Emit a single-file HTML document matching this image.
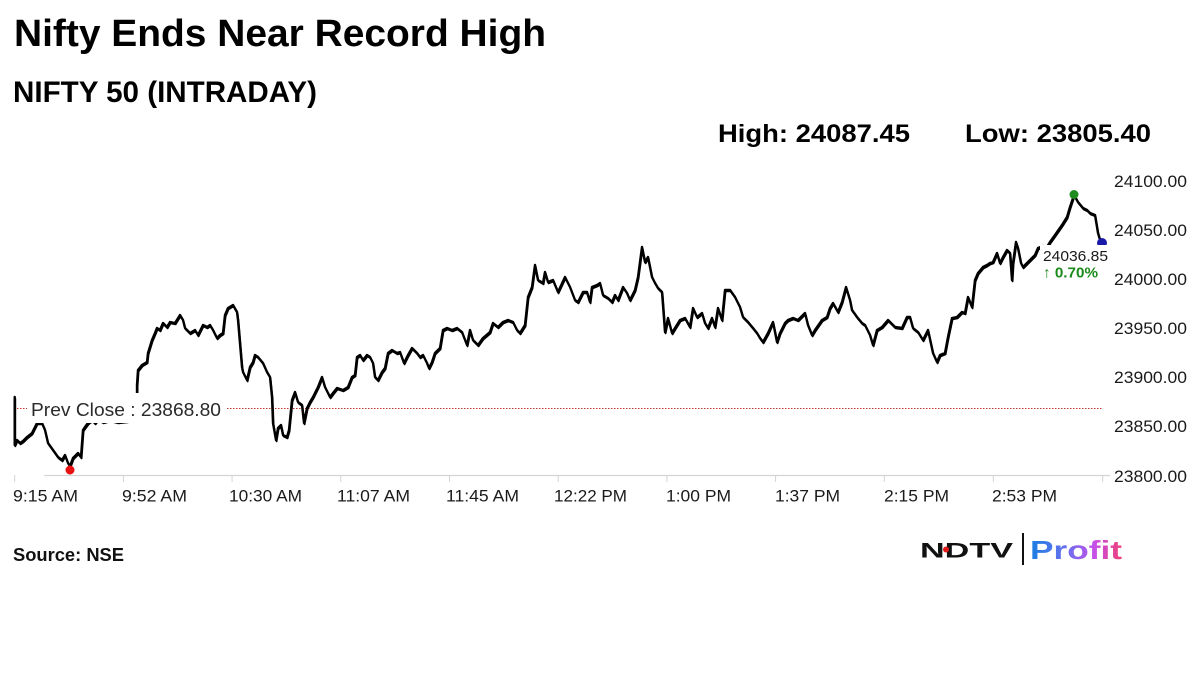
<!DOCTYPE html>
<html>
<head>
<meta charset="utf-8">
<style>
  html,body{margin:0;padding:0;background:#fff;}
  svg{display:block;}
  text{font-family:"Liberation Sans", Arial, sans-serif;}
</style>
</head>
<body>
<svg width="1200" height="674" viewBox="0 0 1200 674" xmlns="http://www.w3.org/2000/svg">
  <defs>
    <linearGradient id="pg" x1="1030" y1="0" x2="1122" y2="0" gradientUnits="userSpaceOnUse">
      <stop offset="0" stop-color="#1a7fe0"/>
      <stop offset="0.4" stop-color="#6a6ff0"/>
      <stop offset="0.7" stop-color="#c64fe8"/>
      <stop offset="1" stop-color="#ef3f78"/>
    </linearGradient>
    <polyline id="series" fill="none" stroke-linejoin="round" stroke-linecap="round"
    points="14.7,397 14.7,445 17,440 20,443 23,441 27,437 32,433 37,423 42,423 45,430 48,443 53,450 58,457 62,460 65,455 68,463 70,466 73,458 78,453 81,457 83,430 85,427 88,423 92,420 95,423 98,419 103,422 110,420 118,422 127,421 132,420 136,418 137,393 137,385 138,370 142,365 147,362 148,353 152,340 155,333 157,328 160,330 163,323 167,327 170,322 175,323 180,315 183,320 185,328 190,333 195,330 198,335 203,325 207,327 210,325 213,330 217,338 220,335 223,333 225,315 228,308 233,305 237,312 238,320 242,367 243,372 247,380 250,367 253,362 255,355 258,357 263,363 267,372 270,377 272,397 273,423 276,440 278,428 281,425 283,435 287,437 289,430 292,400 295,392 298,402 302,405 304,423 307,408 310,402 313,397 318,387 322,377 325,387 330,397 333,393 337,388 343,390 348,387 352,377 355,375 357,357 360,355 363,360 367,355 370,357 373,363 375,377 378,380 382,372 385,368 388,353 392,350 397,353 400,352 404,363 408,355 412,348 417,353 420,357 423,355 427,363 429,368 432,362 435,353 440,348 443,330 447,328 452,330 457,328 462,332 467,345 470,330 473,340 478,345 483,338 490,332 493,323 498,327 503,322 508,320 513,322 517,330 520,333 525,325 528,297 532,287 535,265 538,280 543,283 545,272 548,282 553,280 558,292 565,277 570,287 575,300 578,302 583,292 587,292 590,302 592,287 597,285 600,283 603,295 608,298 612,302 615,295 618,300 623,287 627,293 630,300 635,290 638,277 642,247 645,262 648,257 652,277 655,283 658,288 662,292 665,332 668,318 672,333 675,328 680,320 685,318 690,327 693,308 697,317 702,313 705,323 708,328 712,318 715,327 718,308 722,320 725,290 730,290 735,297 740,307 743,317 748,322 753,328 757,333 760,338 763,342 768,333 773,322 777,342 780,333 785,323 788,320 793,318 798,320 805,313 808,325 812,335 815,330 822,320 827,317 830,308 833,303 838,312 842,302 846,287 850,300 852,310 857,317 862,323 865,325 870,335 873,345 877,330 882,327 888,320 895,327 902,328 907,317 910,317 913,328 918,332 923,340 928,330 933,353 937,362 940,355 945,353 948,337 952,318 957,317 962,312 965,313 968,297 972,307 975,280 978,273 983,267 987,265 990,263 993,262 997,253 1000,263 1003,257 1007,250 1010,253 1012,280 1013,263 1016,242 1018,248 1021,263 1023,267 1027,263 1030,260 1035,255 1038,248 1043,246 1047,247 1050,242 1055,235 1062,225 1067,217 1070,207 1074,195 1078,202 1083,208 1087,210 1090,213 1095,215 1098,233 1101,243"/>
  </defs>
  <rect width="1200" height="674" fill="#fff"/>

  <!-- Titles -->
  <text x="14" y="46" font-size="38" font-weight="bold" fill="#000" textLength="532" lengthAdjust="spacingAndGlyphs">Nifty Ends Near Record High</text>
  <text x="13" y="102" font-size="30" font-weight="bold" fill="#000" textLength="304" lengthAdjust="spacingAndGlyphs">NIFTY 50 (INTRADAY)</text>
  <text x="718" y="142" font-size="25" font-weight="bold" fill="#000" textLength="192" lengthAdjust="spacingAndGlyphs">High: 24087.45</text>
  <text x="965" y="142" font-size="25" font-weight="bold" fill="#000" textLength="186" lengthAdjust="spacingAndGlyphs">Low: 23805.40</text>

  <!-- Right axis labels -->
  <g font-size="17" fill="#1a1a1a">
    <text x="1114" y="187" textLength="73" lengthAdjust="spacingAndGlyphs">24100.00</text>
    <text x="1114" y="236" textLength="73" lengthAdjust="spacingAndGlyphs">24050.00</text>
    <text x="1114" y="285" textLength="73" lengthAdjust="spacingAndGlyphs">24000.00</text>
    <text x="1114" y="334" textLength="73" lengthAdjust="spacingAndGlyphs">23950.00</text>
    <text x="1114" y="383" textLength="73" lengthAdjust="spacingAndGlyphs">23900.00</text>
    <text x="1114" y="432" textLength="73" lengthAdjust="spacingAndGlyphs">23850.00</text>
    <text x="1114" y="482" textLength="73" lengthAdjust="spacingAndGlyphs">23800.00</text>
  </g>

  <!-- X axis -->
  <line x1="44" y1="475.5" x2="1110" y2="475.5" stroke="#d4d4d4" stroke-width="1.2"/>
  <g stroke="#d4d4d4" stroke-width="1">
    <line x1="14.7" y1="475" x2="14.7" y2="482"/>
    <line x1="123.4" y1="475" x2="123.4" y2="482"/>
    <line x1="232.1" y1="475" x2="232.1" y2="482"/>
    <line x1="340.8" y1="475" x2="340.8" y2="482"/>
    <line x1="449.5" y1="475" x2="449.5" y2="482"/>
    <line x1="558.2" y1="475" x2="558.2" y2="482"/>
    <line x1="666.9" y1="475" x2="666.9" y2="482"/>
    <line x1="775.6" y1="475" x2="775.6" y2="482"/>
    <line x1="884.3" y1="475" x2="884.3" y2="482"/>
    <line x1="993.3" y1="475" x2="993.3" y2="482"/>
    <line x1="1102.7" y1="475" x2="1102.7" y2="482"/>
  </g>
  <g font-size="17" fill="#1a1a1a">
    <text x="13" y="501.5" textLength="65" lengthAdjust="spacingAndGlyphs">9:15 AM</text>
    <text x="122" y="501.5" textLength="65" lengthAdjust="spacingAndGlyphs">9:52 AM</text>
    <text x="229" y="501.5" textLength="73" lengthAdjust="spacingAndGlyphs">10:30 AM</text>
    <text x="337" y="501.5" textLength="73" lengthAdjust="spacingAndGlyphs">11:07 AM</text>
    <text x="446" y="501.5" textLength="73" lengthAdjust="spacingAndGlyphs">11:45 AM</text>
    <text x="554" y="501.5" textLength="73" lengthAdjust="spacingAndGlyphs">12:22 PM</text>
    <text x="666" y="501.5" textLength="65" lengthAdjust="spacingAndGlyphs">1:00 PM</text>
    <text x="775" y="501.5" textLength="65" lengthAdjust="spacingAndGlyphs">1:37 PM</text>
    <text x="884" y="501.5" textLength="65" lengthAdjust="spacingAndGlyphs">2:15 PM</text>
    <text x="992" y="501.5" textLength="65" lengthAdjust="spacingAndGlyphs">2:53 PM</text>
  </g>

  <!-- Prev close line -->
  <line x1="14" y1="408.5" x2="1103" y2="408.5" stroke="#c0392b" stroke-width="1" stroke-dasharray="1.5,1.5"/>

  <!-- Price series (double stroke to mimic jagged thickness) -->
  <use href="#series" stroke="#000" stroke-width="2.4"/>
  <use href="#series" stroke="#000" stroke-width="1.8" transform="translate(0.6,1.4)"/>

  <!-- markers -->
  <circle cx="70" cy="470" r="4.5" fill="#e81010"/>
  <circle cx="1074" cy="194.5" r="4.5" fill="#1e8c1e"/>
  <circle cx="1102" cy="243" r="5" fill="#1a1aa8"/>

  <!-- Prev close label box -->
  <rect x="27" y="393" width="199" height="30" fill="#fff"/>
  <text x="31" y="416" font-size="18" fill="#2a2a2a" textLength="190" lengthAdjust="spacingAndGlyphs">Prev Close : 23868.80</text>

  <!-- Close label box -->
  <rect x="1040" y="245" width="68" height="37" fill="#fff"/>
  <text x="1043" y="261" font-size="15" fill="#1a1a1a" textLength="65" lengthAdjust="spacingAndGlyphs">24036.85</text>
  <text x="1043" y="277.5" font-size="15" font-weight="bold" fill="#1a8a1a" textLength="55" lengthAdjust="spacingAndGlyphs">↑ 0.70%</text>

  <!-- Source -->
  <text x="13" y="561" font-size="18.5" font-weight="bold" fill="#111" textLength="111" lengthAdjust="spacingAndGlyphs">Source: NSE</text>

  <!-- NDTV Profit logo -->
  <text x="920" y="557.5" font-size="21" font-weight="900" fill="#111" textLength="93" lengthAdjust="spacingAndGlyphs">NDTV</text>
  <circle cx="946" cy="549.5" r="3" fill="#e01b1b"/>
  <rect x="1022" y="533" width="2" height="32" fill="#111"/>
  <text x="1030" y="559" font-size="26" font-weight="bold" fill="url(#pg)" textLength="92" lengthAdjust="spacingAndGlyphs">Profit</text>
</svg>
</body>
</html>
